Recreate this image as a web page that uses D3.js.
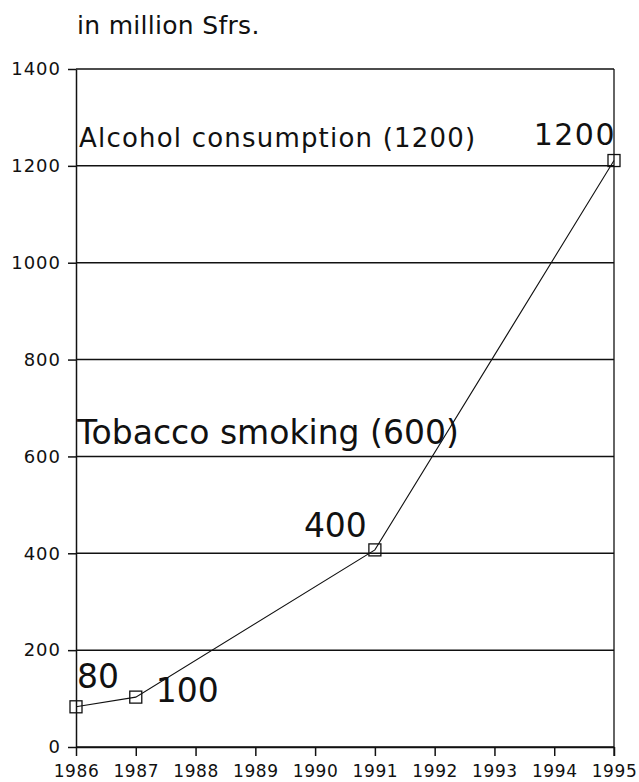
<!DOCTYPE html>
<html>
<head>
<meta charset="utf-8">
<script src="https://cdn.jsdelivr.net/npm/d3@7"></script>
<style>
  body { margin: 0; background: #fff; }
  svg { display: block; }
  text { font-family: "DejaVu Sans", "Liberation Sans", Arial, sans-serif; fill: #111; }
</style>
</head>
<body>
<div id="chart"></div>
<script>
const years = [1986, 1987, 1991, 1995];
const costs = [83, 103, 407, 1211];
const pointLabels = ["80", "100", "400", "1200"];
const yTicks = [0, 200, 400, 600, 800, 1000, 1200, 1400];
const xTicks = [1986, 1987, 1988, 1989, 1990, 1991, 1992, 1993, 1994, 1995];
const unitLabel = "in million Sfrs.";
const refLabels = ["Alcohol consumption (1200)", "Tobacco smoking (600)"];
const refValues = [1200, 600];

const W = 639, H = 782;
const m = { left: 76, right: 25, top: 69, bottom: 35 };

const svg = d3.select("#chart").append("svg").attr("width", W).attr("height", H);

const x = d3.scaleLinear().domain([1986, 1995]).range([m.left, W - m.right]);
const y = d3.scaleLinear().domain([0, 1400]).range([H - m.bottom, m.top]);

// gridlines
svg.append("g").selectAll("line").data(yTicks).join("line")
  .attr("x1", x(1986)).attr("x2", x(1995))
  .attr("y1", d => y(d)).attr("y2", d => y(d))
  .attr("stroke", "#111").attr("stroke-width", 1.5);

// right border
svg.append("line")
  .attr("x1", x(1995)).attr("x2", x(1995))
  .attr("y1", y(1400)).attr("y2", y(0) + 9)
  .attr("stroke", "#111").attr("stroke-width", 1.3);

// y axis
const yAxis = svg.append("g").attr("transform", `translate(${x(1986)},0)`)
  .call(d3.axisLeft(y).tickValues(yTicks).tickFormat(d3.format("d")).tickSize(8).tickSizeOuter(0).tickPadding(7));
yAxis.selectAll("text").style("font-size", "18px").style("letter-spacing", "1px").attr("fill", "#111");
yAxis.selectAll("line, path").attr("stroke", "#111").attr("stroke-width", 1.5);

// x axis
const xAxis = svg.append("g").attr("transform", `translate(0,${y(0)})`)
  .call(d3.axisBottom(x).tickValues(xTicks).tickFormat(d3.format("d")).tickSize(9).tickSizeOuter(0).tickPadding(9));
xAxis.selectAll("text").style("font-size", "17px").style("letter-spacing", "0.6px").attr("fill", "#111");
xAxis.selectAll("line, path").attr("stroke", "#111").attr("stroke-width", 1.5);

// unit label
svg.append("text").attr("x", x(1986) + 1).attr("y", 34)
  .style("font-size", "25px").style("letter-spacing", "0.3px").text(unitLabel);

// reference labels
svg.append("text").attr("x", x(1986) + 3).attr("y", y(refValues[0]) - 19)
  .style("font-size", "26px").style("letter-spacing", "1.2px").text(refLabels[0]);
svg.append("text").attr("x", x(1986) + 1).attr("y", y(refValues[1]) - 12)
  .style("font-size", "33px").text(refLabels[1]);

// line
const pts = years.map((yr, i) => ({ yr, v: costs[i], lab: pointLabels[i] }));
svg.append("path").datum(pts)
  .attr("d", d3.line().x(d => x(d.yr)).y(d => y(d.v)))
  .attr("fill", "none").attr("stroke", "#111").attr("stroke-width", 1.1);

// markers
const s = 12;
svg.append("g").selectAll("rect").data(pts).join("rect")
  .attr("x", d => x(d.yr) - s / 2).attr("y", d => y(d.v) - s / 2)
  .attr("width", s).attr("height", s)
  .attr("fill", "none").attr("stroke", "#111").attr("stroke-width", 1.3);

// point labels
const labelPos = [
  { dx: 1, dy: -19, anchor: "start", size: 33, ls: 0 },
  { dx: 20, dy: 5, anchor: "start", size: 33, ls: 0 },
  { dx: -8, dy: -13, anchor: "end", size: 33, ls: 0 },
  { dx: 2, dy: -16, anchor: "end", size: 30, ls: 1.5 }
];
svg.append("g").selectAll("text").data(pts).join("text")
  .attr("x", (d, i) => x(d.yr) + labelPos[i].dx)
  .attr("y", (d, i) => y(d.v) + labelPos[i].dy)
  .attr("text-anchor", (d, i) => labelPos[i].anchor)
  .style("font-size", (d, i) => labelPos[i].size + "px")
  .style("letter-spacing", (d, i) => labelPos[i].ls + "px")
  .text(d => d.lab);
</script>
</body>
</html>
